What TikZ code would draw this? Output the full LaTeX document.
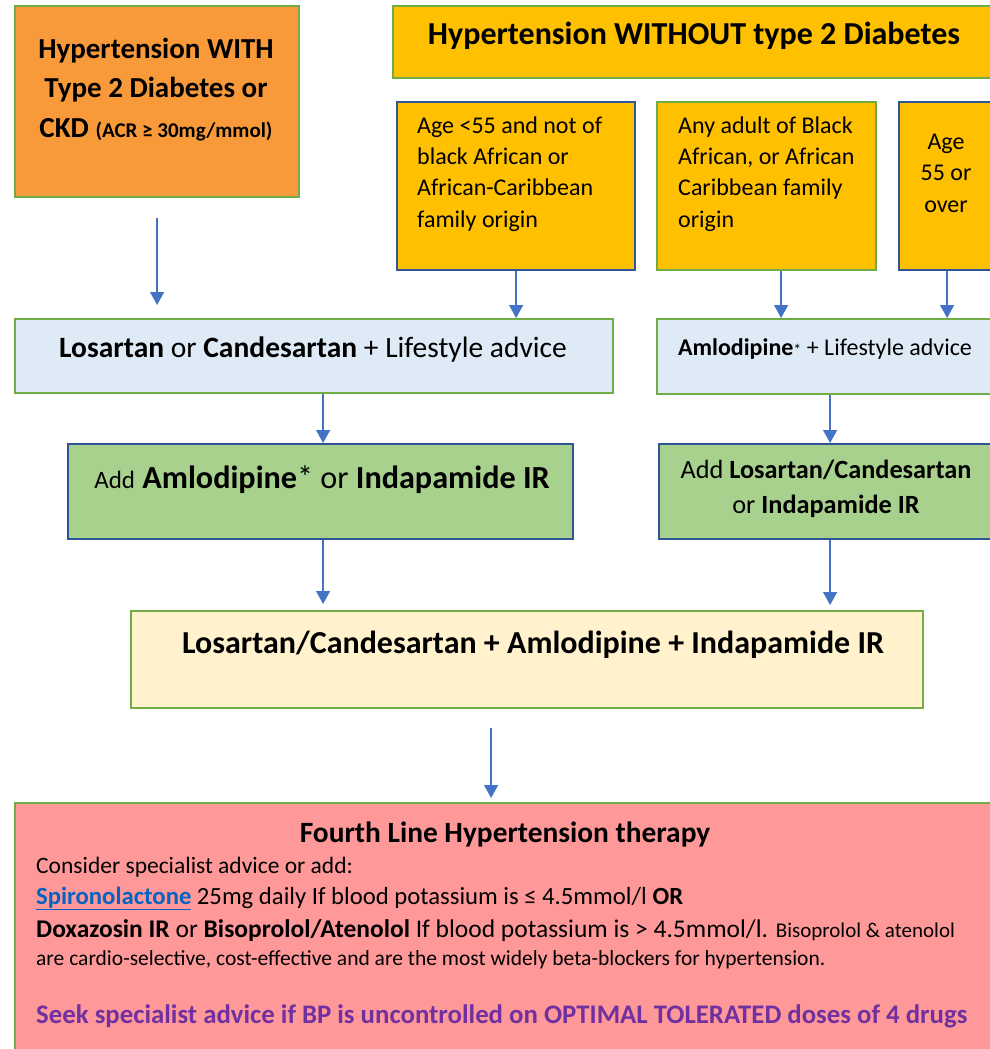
\documentclass[tikz,border=0pt]{standalone}
\usepackage{fontspec}
\setmainfont{Carlito}
\usetikzlibrary{arrows.meta,calc}
\definecolor{orangeF}{HTML}{F8993A}
\definecolor{yellowF}{HTML}{FFC000}
\definecolor{greenB}{HTML}{70AD47}
\definecolor{blueB}{HTML}{2F5597}
\definecolor{lightblueF}{HTML}{DEEBF7}
\definecolor{greenF}{HTML}{A9D18E}
\definecolor{creamF}{HTML}{FFF2CC}
\definecolor{redF}{HTML}{FF9999}
\definecolor{arrowblue}{HTML}{4472C4}
\definecolor{linkblue}{HTML}{0563C1}
\definecolor{purpleT}{HTML}{7030A0}
\begin{document}
\begin{tikzpicture}[x=1pt,y=-1pt,
  box/.style={line width=2.2pt, inner sep=0pt, anchor=north west},
  txt/.style={inner sep=0pt, text=black},
  arr/.style={draw=arrowblue, line width=1.3pt, -{Triangle[length=13pt,width=14pt]}}]
\clip (0,0) rectangle (990,1049);
\fill[white] (0,0) rectangle (990,1049);
% boxes
\node[box, fill=orangeF, draw=greenB, minimum width=284pt, minimum height=191pt] (orange) at (14,5) {};
\node[box, fill=yellowF, draw=greenB, minimum width=604pt, minimum height=72pt] (header) at (392,5) {};
\node[box, fill=yellowF, draw=blueB, minimum width=238pt, minimum height=168pt] (boxA) at (396,101) {};
\node[box, fill=yellowF, draw=greenB, minimum width=219pt, minimum height=168pt] (boxB) at (656,101) {};
\node[box, fill=yellowF, draw=blueB, minimum width=98pt, minimum height=168pt] (boxC) at (898,101) {};
\node[box, fill=lightblueF, draw=greenB, minimum width=598pt, minimum height=74pt] (los) at (14,318) {};
\node[box, fill=lightblueF, draw=greenB, minimum width=340pt, minimum height=75pt] (aml) at (656,318) {};
\node[box, fill=greenF, draw=blueB, minimum width=505pt, minimum height=95pt] (addL) at (67,443) {};
\node[box, fill=greenF, draw=blueB, minimum width=338pt, minimum height=95pt] (addR) at (658,443) {};
\node[box, fill=creamF, draw=greenB, minimum width=792pt, minimum height=97pt] (cream) at (130,610) {};
\node[box, fill=redF, draw=greenB, minimum width=982pt, minimum height=260pt] (red) at (14,802) {};
% texts (anchor base = baseline of the last line)
\node[txt, align=center, anchor=base, font=\fontsize{29}{39.5}\selectfont\bfseries] (tOrange) at (156,137)
  {Hypertension WITH\\Type 2 Diabetes or\\CKD {\fontsize{21}{39.5}\selectfont (ACR ≥ 30mg/mmol)}};
\node[txt, anchor=base, font=\fontsize{32}{38}\selectfont\bfseries] (tHeader) at (694,45)
  {Hypertension WITHOUT type 2 Diabetes};
\node[txt, align=left, anchor=base west, font=\fontsize{24}{31.3}\selectfont] (tA) at (417,227)
  {Age <55 and not of\\black African or\\African-Caribbean\\family origin};
\node[txt, align=left, anchor=base west, font=\fontsize{24}{31.3}\selectfont] (tB) at (678,227)
  {Any adult of Black\\African, or African\\Caribbean family\\origin};
\node[txt, align=center, anchor=base, font=\fontsize{24}{31.5}\selectfont] (tC) at (946,212)
  {Age\\55 or\\over};
\node[txt, anchor=base, font=\fontsize{29.5}{34}\selectfont] (tLos) at (313,357)
  {\textbf{Losartan} or \textbf{Candesartan} + Lifestyle advice};
\node[txt, anchor=base, font=\fontsize{24}{28}\selectfont] (tAml) at (825,355)
  {\textbf{Amlodipine}{\fontsize{16}{20}\selectfont *} + Lifestyle advice};
\node[txt, anchor=base, font=\fontsize{32.2}{36}\selectfont] (tAddL) at (322,488)
  {{\fontsize{25}{28}\selectfont Add} \textbf{Amlodipine}* or \textbf{Indapamide IR}};
\node[txt, align=center, anchor=base, font=\fontsize{26.3}{35}\selectfont] (tAddR) at (826,513)
  {Add \textbf{Losartan/Candesartan}\\or \textbf{Indapamide IR}};
\node[txt, anchor=base, font=\fontsize{32}{38}\selectfont\bfseries] (tCream) at (533,653)
  {Losartan/Candesartan + Amlodipine + Indapamide IR};
\node[txt, anchor=base, font=\fontsize{29.4}{34}\selectfont\bfseries] (tTitle) at (505,842)
  {Fourth Line Hypertension therapy};
\node[txt, anchor=base west, font=\fontsize{23.5}{28}\selectfont] (tL1) at (36,873)
  {Consider specialist advice or add:};
\node[txt, anchor=base west, font=\fontsize{24.7}{28}\selectfont] (tL2) at (36,904)
  {\textcolor{linkblue}{\underline{\textbf{Spironolactone}}} 25mg daily If blood potassium is ≤ 4.5mmol/l \textbf{OR}};
\node[txt, anchor=base west, font=\fontsize{25.5}{28}\selectfont] (tL3) at (36,937)
  {\textbf{Doxazosin IR} or \textbf{Bisoprolol/Atenolol} If blood potassium is > 4.5mmol/l. {\fontsize{21}{24}\selectfont Bisoprolol \& atenolol}};
\node[txt, anchor=base west, font=\fontsize{21.5}{24}\selectfont] (tL4) at (36,965)
  {are cardio-selective, cost-effective and are the most widely beta-blockers for hypertension.};
\node[txt, anchor=base west, text=purpleT, font=\fontsize{26.8}{30}\selectfont\bfseries] (tL5) at (36,1023)
  {Seek specialist advice if BP is uncontrolled on OPTIMAL TOLERATED doses of 4 drugs};
% arrows
\draw[arr, shorten <=20pt, shorten >=13pt] (orange.south) -- (orange.south |- los.north);
\draw[arr] (boxA.south) -- (boxA.south |- los.north);
\draw[arr] ([xshift=14.5pt]boxB.south) -- ([xshift=14.5pt]boxB.south |- aml.north);
\draw[arr] ([xshift=-1pt]boxC.south) -- ([xshift=-1pt]boxC.south |- aml.north);
\draw[arr] ([xshift=9pt]los.south) -- ([xshift=9pt]los.south |- addL.north);
\draw[arr] ([xshift=3pt]aml.south) -- ([xshift=3pt]aml.south |- addR.north);
\draw[arr, shorten >=6pt] ([xshift=2.5pt]addL.south) -- ([xshift=2.5pt]addL.south |- cream.north);
\draw[arr, shorten >=5pt] ([xshift=2pt]addR.south) -- ([xshift=2pt]addR.south |- cream.north);
\draw[arr, shorten <=19pt, shorten >=4pt] ([xshift=-36pt]cream.south) -- ([xshift=-36pt]cream.south |- red.north);
\end{tikzpicture}
\end{document}
